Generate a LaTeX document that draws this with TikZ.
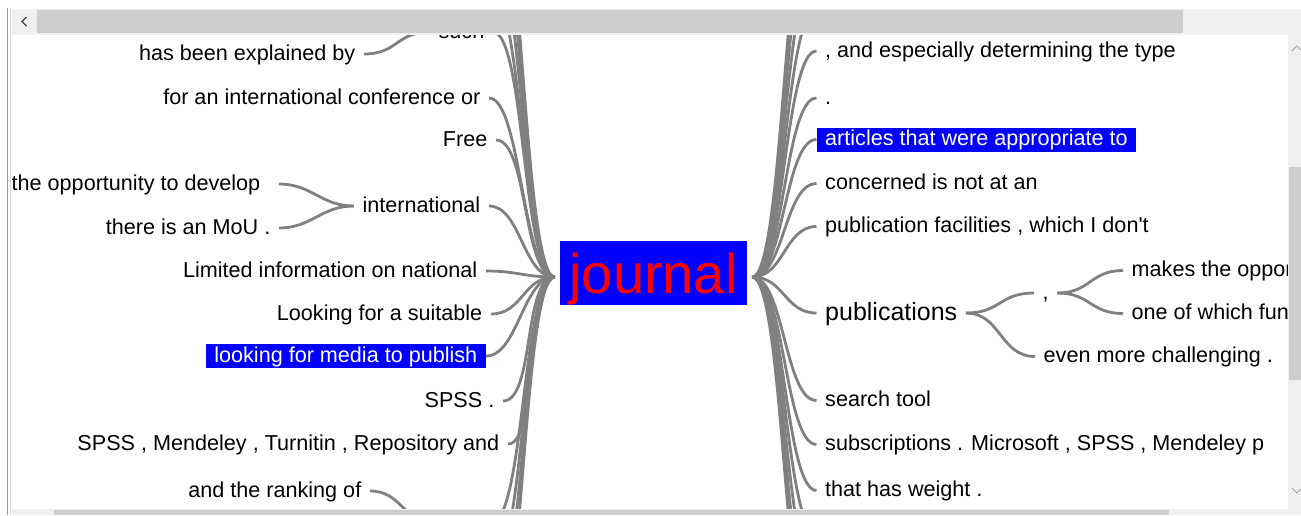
\documentclass[tikz,border=0pt]{standalone}
\usepackage{fontspec}
\setmainfont{Liberation Sans}
\definecolor{barbg}{HTML}{F0F0F0}
\definecolor{barthumb}{HTML}{CDCDCD}
\definecolor{twiggray}{HTML}{808080}

\begin{document}
\begin{tikzpicture}[x=1pt, y=-1pt,
    word/.style={font=\fontsize{21.6}{26}\selectfont, text height=16pt, text depth=4pt, inner xsep=8.5pt, inner ysep=2pt},
    hit/.style={word, fill=blue, text=white},
    twig/.style={draw=twiggray, line width=2.8pt}]
  \useasboundingbox (0,0) rectangle (1301,515);
  \fill[white] (0,0) rectangle (1301,515);
  \begin{scope}
    \clip (12,35) rectangle (1288,509);
    \node[fill=blue, text=red, font=\fontsize{56}{60}\selectfont, text height=52pt, text depth=12pt, inner sep=0pt, minimum width=187pt] (journal) at (653.5,273) {journal};
    \coordinate (jl) at ([xshift=-5pt,yshift=-4pt]journal.west);
    \coordinate (jr) at ([xshift=5pt,yshift=-4pt]journal.east);
    % left side
    \node[word, anchor=base east] (such) at (493,38) {such};
    \node[word, anchor=base east] (expl) at (364,60) {has been explained by};
    \node[word, anchor=base east] (conf) at (489,104) {for an international conference or};
    \node[word, anchor=base east] (free) at (496,146) {Free};
    \node[word, anchor=base east] (intl) at (489,212) {international};
    \node[word, anchor=base east] (develop) at (269,190) {the opportunity to develop};
    \node[word, anchor=base east] (mou) at (279,234) {there is an MoU .};
    \node[word, anchor=base east] (limited) at (486,277) {Limited information on national};
    \node[word, anchor=base east] (suitable) at (491,320) {Looking for a suitable};
    \node[hit, anchor=base east] (media) at (486,362) {looking for media to publish};
    \node[word, anchor=base east] (spss) at (503,407) {SPSS .};
    \node[word, anchor=base east] (spssmore) at (508,450) {SPSS , Mendeley , Turnitin , Repository and};
    \node[word, anchor=base east] (rank) at (370,497) {and the ranking of};
    \coordinate (rankw) at (434,522);
    \foreach \y [count=\i] in {-12,-55,-98,-141} \coordinate (lu\i) at (490,\y);
    \foreach \y [count=\i] in {522,565,608,651} \coordinate (ld\i) at (492,\y);
    % right side
    \node[word, anchor=base west] (type) at (816.5,57) {, and especially determining the type};
    \node[word, anchor=base west] (dot) at (816.5,104) {.};
    \node[hit, anchor=base west] (articles) at (816.5,145.5) {articles that were appropriate to};
    \node[word, anchor=base west] (concerned) at (816.5,189.5) {concerned is not at an};
    \node[word, anchor=base west] (facilities) at (816.5,232.5) {publication facilities , which I don\textquotesingle t};
    \node[word, font=\fontsize{25}{30}\selectfont, text height=18.5pt, text depth=4.5pt, anchor=base west] (pubs) at (816.5,320) {publications};
    \node[word, anchor=base west] (comma) at (1034,299) {,};
    \node[word, anchor=base west] (makes) at (1123,276.5) {makes the oppor};
    \node[word, anchor=base west] (which) at (1123,319.5) {one of which fun};
    \node[word, anchor=base west] (challenge) at (1035,362.5) {even more challenging .};
    \node[word, anchor=base west] (tool) at (816.5,406.5) {search tool};
    \node[word, anchor=base west] (subs) at (816.5,450.5) {subscriptions . Microsoft , SPSS , Mendeley p};
    \node[word, anchor=base west] (weight) at (816.5,496.5) {that has weight .};
    \foreach \y [count=\i] in {8,-35,-78,-121} \coordinate (ru\i) at (817,\y);
    \foreach \y [count=\i] in {534,577,620,663} \coordinate (rd\i) at (817,\y);
    % branches
    \foreach \n in {such.east,conf.east,free.east,intl.east,limited.east,suitable.east,media.east,spss.east,spssmore.east,lu1,lu2,lu3,lu4,ld1,ld2,ld3,ld4}
      \draw[twig] (jl) .. controls +(-32,0) and +(32,0) .. (\n);
    \foreach \n in {type,dot,articles,concerned,facilities,pubs,tool,subs,weight}
      \draw[twig] (jr) .. controls +(32,0) and +(-32,0) .. (\n.west);
    \foreach \n in {ru1,ru2,ru3,ru4,rd1,rd2,rd3,rd4}
      \draw[twig] (jr) .. controls +(32,0) and +(-32,0) .. (\n);
    \draw[twig] (expl.east) .. controls +(34,0) and +(-34,0) .. (such.west);
    \draw[twig] (rank.east) .. controls +(32,0) and +(-32,0) .. (rankw);
    \foreach \n in {develop,mou}
      \draw[twig] (mou.east |- \n.east) .. controls +(33,0) and +(-33,0) .. (intl.west);
    \foreach \n in {comma,challenge}
      \draw[twig] (pubs.east) .. controls +(35,0) and +(-35,0) .. (\n.west);
    \foreach \n in {makes,which}
      \draw[twig] (comma.east) .. controls +(33,0) and +(-33,0) .. (\n.west);
  \end{scope}
  % scroll bars and frame
  \fill[barbg] (12,9) rectangle (1301,35);
  \fill[barthumb] (37,10) rectangle (1183,33);
  \draw[black!75, line width=1.4pt] (26.5,17) -- (22,21.5) -- (26.5,26);
  \fill[barbg] (1288,35) rectangle (1301,509);
  \fill[barthumb] (1289,167) rectangle (1301,380);
  \draw[black!35, line width=1pt] (1292,51) -- (1297,46) -- (1302,51);
  \draw[black!35, line width=1pt] (1292,488) -- (1297,493) -- (1302,488);
  \fill[barbg] (12,509) rectangle (1301,515);
  \fill[barthumb] (54,510) rectangle (1169,515);
  \draw[black!40] (7,8) -- (7,515);
  \draw[black!15] (10,8) -- (10,515);
\end{tikzpicture}
\end{document}
